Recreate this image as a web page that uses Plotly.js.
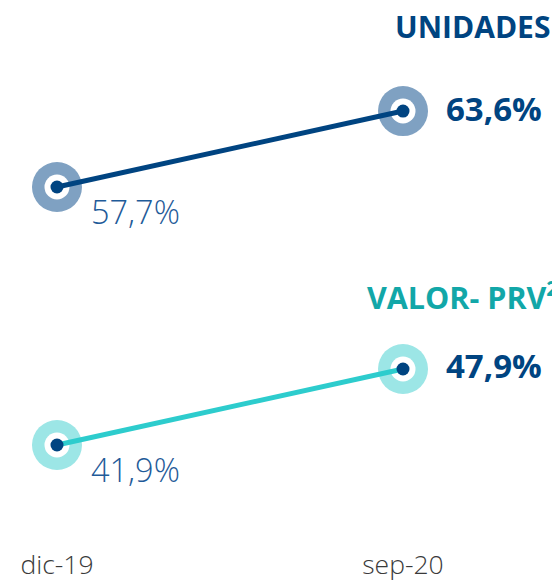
<!DOCTYPE html>
<html>
<head>
<meta charset="utf-8">
<script src="https://cdn.plot.ly/plotly-3.0.1.min.js"></script>
<style>html,body{margin:0;padding:0;background:#fff;}#chart{width:552px;height:581px;}</style>
</head>
<body>
<div id="chart"></div>
<script>
var categories = ['dic-19', 'sep-20'];
var unidades = [57.7, 63.6];
var valor = [41.9, 47.9];
var unidadesLabels = ['57,7%', '63,6%'];
var valorLabels = ['41,9%', '47,9%'];
var seriesTitles = ['UNIDADES', 'VALOR- PRV<sup>2</sup>'];

var navy = '#004481';
var navyRing = '#7fa1c2';
var teal = '#2dcccd';
var tealRing = '#9ce6e6';

function markerTrace(y, axis, size, color) {
  return {
    x: categories, y: y, yaxis: axis, type: 'scatter', mode: 'markers',
    marker: {size: size, color: color, line: {width: 0}},
    hoverinfo: 'skip', showlegend: false, cliponaxis: false
  };
}
function lineTrace(y, axis, lineColor) {
  return {
    x: categories, y: y, yaxis: axis, type: 'scatter', mode: 'lines+markers',
    line: {color: lineColor, width: 5},
    marker: {size: 13, color: navy},
    showlegend: false, cliponaxis: false
  };
}

var data = [
  markerTrace(unidades, 'y', 50, navyRing),
  markerTrace(unidades, 'y', 25, '#ffffff'),
  lineTrace(unidades, 'y', navy),
  markerTrace(valor, 'y2', 50, tealRing),
  markerTrace(valor, 'y2', 25, '#ffffff'),
  lineTrace(valor, 'y2', teal)
];

var annotations = [];
function valueLabels(y, labels, yref) {
  annotations.push({x: categories[0], y: y[0], xref: 'x', yref: yref, text: labels[0],
    showarrow: false, xanchor: 'left', yanchor: 'middle', xshift: 32, yshift: -24,
    font: {family: 'Open Sans', size: 32.5, color: '#1f5b99', weight: 300}});
  annotations.push({x: categories[1], y: y[1], xref: 'x', yref: yref, text: labels[1],
    showarrow: false, xanchor: 'left', yanchor: 'middle', xshift: 41, yshift: 3,
    font: {family: 'Open Sans', size: 33, color: navy, weight: 'bold'}});
}
valueLabels(unidades, unidadesLabels, 'y');
valueLabels(valor, valorLabels, 'y2');

annotations.push({x: 0.712, y: 1, xref: 'paper', yref: 'paper', text: seriesTitles[0],
  showarrow: false, xanchor: 'left', yanchor: 'top', yshift: -4,
  font: {family: 'Open Sans', size: 30, color: navy, weight: 'bold'}});
annotations.push({x: 0.662, y: 0.433, xref: 'paper', yref: 'paper', text: seriesTitles[1],
  showarrow: false, xanchor: 'left', yanchor: 'middle',
  font: {family: 'Open Sans', size: 30.5, color: '#12a7a8', weight: 'bold'}});

var layout = {
  width: 552, height: 581,
  margin: {l: 0, r: 0, t: 0, b: 60},
  paper_bgcolor: '#ffffff', plot_bgcolor: '#ffffff',
  showlegend: false,
  xaxis: {type: 'category', range: [-0.1647, 1.4306], showgrid: false, zeroline: false,
    showline: false, ticks: '', ticklabelstandoff: 25,
    tickfont: {family: 'Open Sans', size: 26.5, color: '#3a3a3a', weight: 300}},
  yaxis: {range: [31.77, 72.22], visible: false, showgrid: false, zeroline: false},
  yaxis2: {range: [35.90, 77.03], overlaying: 'y', visible: false, showgrid: false, zeroline: false},
  annotations: annotations
};

Plotly.newPlot('chart', data, layout, {displayModeBar: false, staticPlot: true});
</script>
</body>
</html>
